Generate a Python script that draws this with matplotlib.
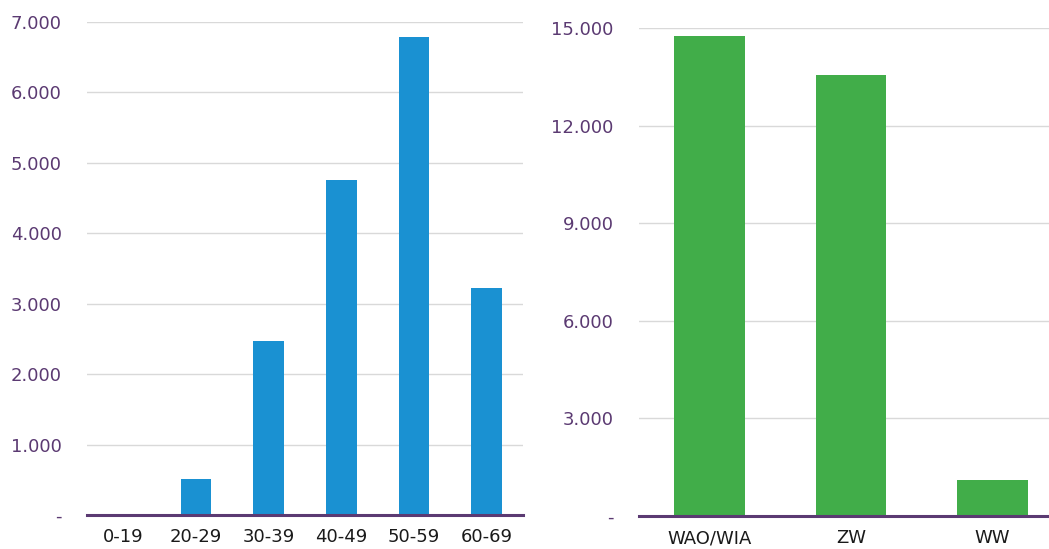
import matplotlib
matplotlib.use("Agg")
import matplotlib.pyplot as plt
from matplotlib.ticker import FuncFormatter

age_groups = ["0-19", "20-29", "30-39", "40-49", "50-59", "60-69"]
age_values = [5, 510, 2470, 4760, 6790, 3225]

benefit_types = ["WAO/WIA", "ZW", "WW"]
benefit_values = [14750, 13560, 1110]

left_ticks = [0, 1000, 2000, 3000, 4000, 5000, 6000, 7000]
right_ticks = [0, 3000, 6000, 9000, 12000, 15000]

purple = "#5b3a72"
grid_c = "#d9d9d9"
blue = "#1a91d2"
green = "#41ad49"

plt.rcParams['font.family'] = 'sans-serif'
plt.rcParams['font.sans-serif'] = ['DejaVu Sans']

fig = plt.figure(figsize=(10.49, 5.49), dpi=100)

def fmt(v, pos):
    if v == 0:
        return "-"
    return f"{int(v):,}".replace(",", ".")

def style(ax, ticks):
    ax.set_yticks(ticks)
    ax.yaxis.set_major_formatter(FuncFormatter(fmt))
    ax.grid(axis="y", color=grid_c, linewidth=1)
    ax.set_axisbelow(True)
    for s in ["top", "right", "left"]:
        ax.spines[s].set_visible(False)
    ax.spines["bottom"].set_color(purple)
    ax.spines["bottom"].set_linewidth(2.2)
    ax.spines["bottom"].set_zorder(5)
    ax.tick_params(axis="y", length=0, pad=18, labelsize=13, labelcolor=purple)
    ax.tick_params(axis="x", length=0, pad=9.5, labelsize=13, labelcolor="#1a1a1a")

ax1 = fig.add_axes([87/1049, 1-515/549, 436/1049, 493/549])
x1 = range(len(age_groups))
ax1.bar(x1, age_values, width=0.42, color=blue)
ax1.set_xlim(-0.5, len(age_groups)-0.5)
ax1.set_ylim(0, 7000)
ax1.set_xticks(list(x1))
ax1.set_xticklabels(age_groups)
style(ax1, left_ticks)

ax2 = fig.add_axes([638.75/1049, 1-516/549, 424.5/1049, 488/549])
x2 = range(len(benefit_types))
ax2.bar(x2, benefit_values, width=0.5, color=green)
ax2.set_xlim(-0.5, len(benefit_types)-0.5)
ax2.set_ylim(0, 15000)
ax2.set_xticks(list(x2))
ax2.set_xticklabels(benefit_types)
style(ax2, right_ticks)

fig.savefig("out.png", dpi=100)
